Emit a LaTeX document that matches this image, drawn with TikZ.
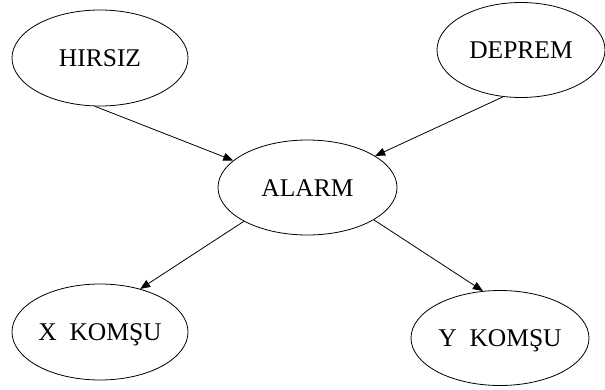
\documentclass[tikz,border=0pt]{standalone}
\usepackage{fontspec}
\setmainfont{Liberation Serif}
\usetikzlibrary{shapes.geometric,arrows.meta}
\begin{document}
\begin{tikzpicture}[x=1pt,y=-1pt,
  ell/.style={ellipse,draw,line width=0.8pt,inner sep=0pt,minimum width=176pt,minimum height=96pt,
    font=\fontsize{25.5}{30}\selectfont,text height=17pt,text depth=0pt},
  arr/.style={line width=0.8pt,-{Triangle[length=10pt,width=8pt]}}]
\useasboundingbox (0,0) rectangle (605,389);
\node[ell] (h) at (100,58) {HIRSIZ};
\node[ell,minimum width=168pt,minimum height=95pt] (d) at (521,50) {DEPREM};
\node[ell,minimum width=179pt,minimum height=95pt] (a) at (307.5,187.5) {ALARM};
\node[ell] (x) at (100,332) {X\ \ KOMŞU};
\node[ell,minimum width=178pt,minimum height=95pt] (y) at (500,338) {Y\ \ KOMŞU};
\draw[arr] (h.-96) -- (a.160);
\draw[arr] (d.249) -- (a.25);
\draw[arr] (a.208) -- (x.47);
\draw[arr] (a.-26) -- (y.110);
\end{tikzpicture}
\end{document}
